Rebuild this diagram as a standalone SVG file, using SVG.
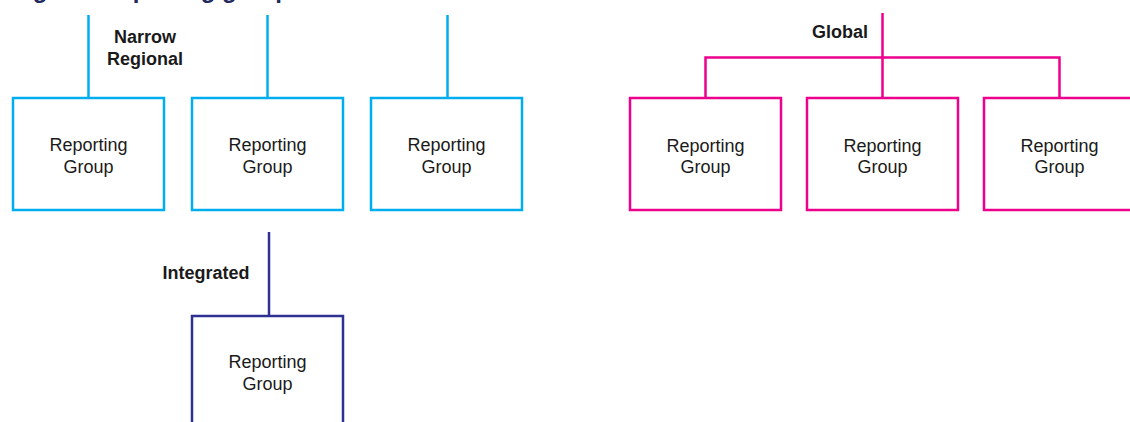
<svg xmlns="http://www.w3.org/2000/svg" width="1130" height="422" viewBox="0 0 1130 422">
<style>
.t{font-family:"Liberation Sans",Arial,sans-serif;font-size:18px;fill:#1a1a1a;text-anchor:middle}
.b{font-weight:bold}
.title{font-family:"Liberation Sans",Arial,sans-serif;font-size:24px;font-weight:bold;fill:#1F2A5C}
.box{fill:#fff;stroke-width:2.5}
.c{stroke:#00AEEF}
.m{stroke:#EC008C}
.n{stroke:#2E3192}
.ln{fill:none;stroke-width:2.5}
</style>
<rect width="1130" height="422" fill="#fff"/>
<text class="title" x="2" y="-2">Regional reporting groups</text>
<g id="connectors">
<line class="ln c" x1="88.5" y1="15" x2="88.5" y2="98"/>
<line class="ln c" x1="267.5" y1="15" x2="267.5" y2="98"/>
<line class="ln c" x1="447.5" y1="15" x2="447.5" y2="98"/>
<line class="ln n" x1="269" y1="232" x2="269" y2="316"/>
<line class="ln m" x1="882.5" y1="13" x2="882.5" y2="98"/>
<polyline class="ln m" points="705.5,98 705.5,57.5 1059.5,57.5 1059.5,98"/>
</g>
<g id="label-narrow-regional"><text class="t b" x="145" y="43">Narrow</text><text class="t b" x="145" y="65">Regional</text></g>
<g id="label-integrated"><text class="t b" x="206" y="279">Integrated</text></g>
<g id="label-global"><text class="t b" x="840" y="38">Global</text></g>
<g id="rg-narrow-1"><rect class="box c" x="13" y="98" width="151" height="112"/><text class="t" x="88.5" y="151">Reporting</text><text class="t" x="88.5" y="173">Group</text></g>
<g id="rg-narrow-2"><rect class="box c" x="192" y="98" width="151" height="112"/><text class="t" x="267.5" y="151">Reporting</text><text class="t" x="267.5" y="173">Group</text></g>
<g id="rg-narrow-3"><rect class="box c" x="371" y="98" width="151" height="112"/><text class="t" x="446.5" y="151">Reporting</text><text class="t" x="446.5" y="173">Group</text></g>
<g id="rg-integrated"><rect class="box n" x="192" y="316" width="151" height="130"/><text class="t" x="267.5" y="368">Reporting</text><text class="t" x="267.5" y="390">Group</text></g>
<g id="rg-global-1"><rect class="box m" x="630" y="98" width="151" height="112"/><text class="t" x="705.5" y="152">Reporting</text><text class="t" x="705.5" y="173">Group</text></g>
<g id="rg-global-2"><rect class="box m" x="807" y="98" width="151" height="112"/><text class="t" x="882.5" y="152">Reporting</text><text class="t" x="882.5" y="173">Group</text></g>
<g id="rg-global-3"><rect class="box m" x="984" y="98" width="151" height="112"/><text class="t" x="1059.5" y="152">Reporting</text><text class="t" x="1059.5" y="173">Group</text></g>
</svg>
